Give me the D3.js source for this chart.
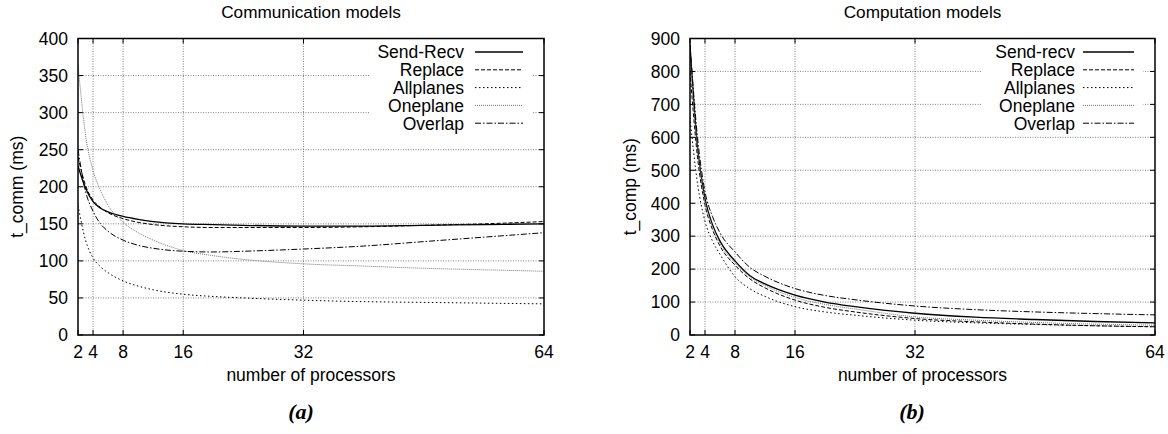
<!DOCTYPE html>
<html>
<head>
<meta charset="utf-8">
<script src="https://cdn.jsdelivr.net/npm/d3@7/dist/d3.min.js"></script>
<style>
  html, body { margin: 0; padding: 0; background: #fff; }
  svg { display: block; }
  text { font-family: "Liberation Sans", Arial, Helvetica, sans-serif; fill: #000; }
</style>
</head>
<body>
<svg id="chart" width="1168" height="434"></svg>
<script>
// ---- data ----
const procs = [2, 3, 4, 5, 6, 8, 10, 12, 16, 20, 24, 32, 40, 48, 56, 64];
const xTicks = [2, 4, 8, 16, 32, 64];

const commTitle = "Communication models";
const commNames = ["Send-Recv", "Replace", "Allplanes", "Oneplane", "Overlap"];
const commSendRecv = [228, 198, 180, 171, 166, 160, 156, 153, 150, 149, 148, 147, 147, 148, 149, 150];
const commReplace  = [240, 202, 182, 172, 165, 157, 152, 149, 146, 145, 145, 145, 146, 148, 150, 153];
const commAllplanes= [175, 128, 104,  92,  84,  73,  66,  61,  55,  52,  50,  47,  45,  44,  43,  42];
const commOneplane = [365, 270, 222, 195, 175, 152, 138, 128, 114, 107, 102,  96,  93,  90,  88,  86];
const commOverlap  = [250, 194, 167, 150, 140, 128, 121, 117, 113, 112, 113, 116, 120, 126, 132, 138];
const commYTicks = [0, 50, 100, 150, 200, 250, 300, 350, 400];

const compTitle = "Computation models";
const compNames = ["Send-recv", "Replace", "Allplanes", "Oneplane", "Overlap"];
const compSendRecv = [880, 570, 414, 335, 285, 225, 180, 155, 121, 100, 86, 66, 54, 47, 41, 37];
const compReplace  = [800, 540, 395, 320, 270, 212, 170, 143, 106,  84, 70, 50, 40, 33, 28, 25];
const compAllplanes= [660, 460, 345, 285, 245, 177, 140, 117,  86,  70, 60, 45, 37, 32, 28, 25];
const compOneplane = [860, 570, 405, 328, 278, 219, 176, 150, 114,  93, 79, 55, 45, 38, 33, 30];
const compOverlap  = [880, 600, 435, 360, 310, 252, 205, 178, 141, 120, 107, 88, 77, 70, 65, 61];
const compYTicks = [0, 100, 200, 300, 400, 500, 600, 700, 800, 900];

// ---- styles per series (index order) ----
const styles = [
  { stroke: "#000", width: 1.3, dash: null },
  { stroke: "#000", width: 1.0, dash: "4,2" },
  { stroke: "#000", width: 1.0, dash: "1.5,2.5" },
  { stroke: "#777", width: 1.0, dash: "1,1" },
  { stroke: "#000", width: 1.0, dash: "6,2,1.5,2" }
];

const FS = 17.5;
const svg = d3.select("#chart");

function drawPanel(cfg) {
  const g = svg.append("g");
  const x = d3.scaleLinear().domain([2, 64]).range([cfg.left, cfg.right]);
  const y = d3.scaleLinear().domain([0, cfg.ymax]).range([cfg.bottom, cfg.top]);

  const clipId = "clip" + cfg.id;
  svg.append("defs").append("clipPath").attr("id", clipId)
    .append("rect").attr("x", cfg.left).attr("y", cfg.top)
    .attr("width", cfg.right - cfg.left).attr("height", cfg.bottom - cfg.top);

  // grid
  const gridColor = "#666";
  g.selectAll(".gy").data(cfg.yTicks.filter(v => v > 0 && v < cfg.ymax)).enter()
    .append("line")
    .attr("x1", cfg.left).attr("x2", cfg.right)
    .attr("y1", d => y(d)).attr("y2", d => y(d))
    .attr("stroke", gridColor).attr("stroke-width", 0.8).attr("stroke-dasharray", "1,1.5");
  g.selectAll(".gx").data(xTicks.filter(v => v > 2 && v < 64)).enter()
    .append("line")
    .attr("y1", cfg.top).attr("y2", cfg.bottom)
    .attr("x1", d => x(d)).attr("x2", d => x(d))
    .attr("stroke", gridColor).attr("stroke-width", 0.8).attr("stroke-dasharray", "1,1.5");

  // legend background (opaque)
  g.append("rect")
    .attr("x", cfg.legBoxL).attr("y", cfg.top + 1.5)
    .attr("width", cfg.legBoxR - cfg.legBoxL).attr("height", 94)
    .attr("fill", "#fff");

  // ticks inward on all sides
  const tl = 5;
  cfg.yTicks.forEach(v => {
    g.append("line").attr("x1", cfg.left).attr("x2", cfg.left + tl)
      .attr("y1", y(v)).attr("y2", y(v)).attr("stroke", "#000").attr("stroke-width", 1);
    g.append("line").attr("x1", cfg.right - tl).attr("x2", cfg.right)
      .attr("y1", y(v)).attr("y2", y(v)).attr("stroke", "#000").attr("stroke-width", 1);
  });
  xTicks.forEach(v => {
    g.append("line").attr("y1", cfg.bottom).attr("y2", cfg.bottom - tl)
      .attr("x1", x(v)).attr("x2", x(v)).attr("stroke", "#000").attr("stroke-width", 1);
    g.append("line").attr("y1", cfg.top).attr("y2", cfg.top + tl)
      .attr("x1", x(v)).attr("x2", x(v)).attr("stroke", "#000").attr("stroke-width", 1);
  });

  // curves
  const line = d3.line()
    .x((d, i) => x(procs[i]))
    .y(d => y(d))
    .curve(d3.curveMonotoneX);
  const cg = g.append("g").attr("clip-path", "url(#" + clipId + ")");
  cfg.series.forEach((s, i) => {
    const st = styles[i];
    cg.append("path").datum(s)
      .attr("d", line)
      .attr("fill", "none")
      .attr("stroke", st.stroke)
      .attr("stroke-width", st.width)
      .attr("stroke-dasharray", st.dash);
  });

  // frame
  g.append("rect")
    .attr("x", cfg.left).attr("y", cfg.top)
    .attr("width", cfg.right - cfg.left).attr("height", cfg.bottom - cfg.top)
    .attr("fill", "none").attr("stroke", "#000").attr("stroke-width", 1.5);

  // y tick labels
  g.selectAll(".yl").data(cfg.yTicks).enter().append("text")
    .attr("x", cfg.left - 10).attr("y", d => y(d)).attr("dy", "0.36em")
    .attr("text-anchor", "end").attr("font-size", FS)
    .text(d => d);

  // x tick labels
  g.selectAll(".xl").data(xTicks).enter().append("text")
    .attr("x", d => x(d)).attr("y", cfg.bottom + 23)
    .attr("text-anchor", "middle").attr("font-size", FS)
    .text(d => d);

  const cx = (cfg.left + cfg.right) / 2;
  // title
  g.append("text").attr("x", cx).attr("y", 18)
    .attr("text-anchor", "middle").attr("font-size", 17.2).text(cfg.title);
  // x label
  g.append("text").attr("x", cx).attr("y", cfg.bottom + 46)
    .attr("text-anchor", "middle").attr("font-size", FS).text("number of processors");
  // y label
  g.append("text")
    .attr("transform", "translate(" + cfg.ylabX + "," + ((cfg.top + cfg.bottom) / 2) + ") rotate(-90)")
    .attr("text-anchor", "middle").attr("dy", "0.35em").attr("font-size", FS)
    .text(cfg.ylabel);
  // panel letter
  g.append("text").attr("x", cfg.letterX).attr("y", 419)
    .attr("text-anchor", "middle")
    .style("font-family", "'Liberation Serif', 'Times New Roman', serif")
    .style("font-weight", "bold").style("font-style", "italic")
    .attr("font-size", 22).text(cfg.letter);

  // legend
  cfg.names.forEach((n, i) => {
    const ly = cfg.top + 13.5 + i * 17.8;
    g.append("text").attr("x", cfg.legTextR).attr("y", ly).attr("dy", "0.36em")
      .attr("text-anchor", "end").attr("font-size", FS).text(n);
    const st = styles[i];
    g.append("line")
      .attr("x1", cfg.legLineL).attr("x2", cfg.legLineR)
      .attr("y1", ly).attr("y2", ly)
      .attr("stroke", st.stroke).attr("stroke-width", st.width)
      .attr("stroke-dasharray", st.dash);
  });
}

drawPanel({
  id: "a", left: 78, right: 544, top: 38.5, bottom: 335, ymax: 400,
  yTicks: commYTicks, title: commTitle, ylabel: "t_comm (ms)", ylabX: 17,
  names: commNames,
  series: [commSendRecv, commReplace, commAllplanes, commOneplane, commOverlap],
  legBoxL: 369, legBoxR: 532, legTextR: 464, legLineL: 475, legLineR: 523,
  letter: "(a)", letterX: 301
});

drawPanel({
  id: "b", left: 690, right: 1155, top: 38.5, bottom: 335, ymax: 900,
  yTicks: compYTicks, title: compTitle, ylabel: "t_comp (ms)", ylabX: 630,
  names: compNames,
  series: [compSendRecv, compReplace, compAllplanes, compOneplane, compOverlap],
  legBoxL: 981, legBoxR: 1143, legTextR: 1075, legLineL: 1083, legLineR: 1134,
  letter: "(b)", letterX: 912
});
</script>
</body>
</html>
